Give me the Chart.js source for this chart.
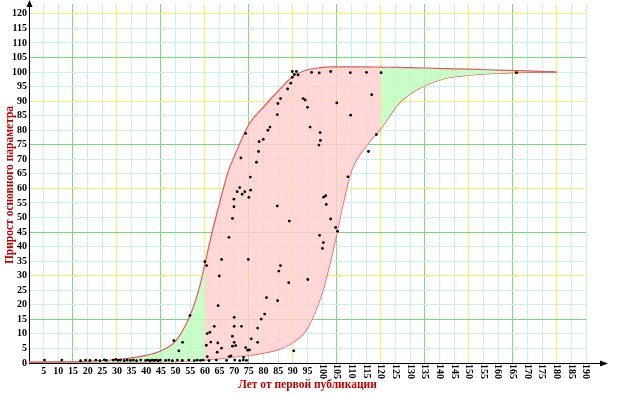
<!DOCTYPE html>
<html>
<head>
<meta charset="utf-8">
<script src="https://cdn.jsdelivr.net/npm/chart.js@4"></script>
<style>
  body { margin: 0; background: #fff; }
</style>
</head>
<body>
<canvas id="growthChart" width="627" height="393"></canvas>
<script>
// Tick values of both axes
const xTickValues = [0, 5, 10, 15, 20, 25, 30, 35, 40, 45, 50, 55, 60, 65, 70, 75, 80, 85, 90, 95, 100, 105, 110, 115, 120, 125, 130, 135, 140, 145, 150, 155, 160, 165, 170, 175, 180, 185, 190];
const yTickValues = [0, 5, 10, 15, 20, 25, 30, 35, 40, 45, 50, 55, 60, 65, 70, 75, 80, 85, 90, 95, 100, 105, 110, 115, 120];

// Curves (envelope of the spread), sampled at common x values
const curveX = [0, 10, 20, 30, 40, 45, 50, 55, 58, 60, 62, 65, 68, 70, 75, 80, 85, 90, 95, 100, 102.5, 105, 107, 110, 115, 120, 126, 130, 135, 142, 150, 160, 170, 180];
const upperY = [0.3, 0.4, 0.6, 1.2, 2.6, 4.2, 7.5, 16.5, 25.5, 34, 43, 55, 66, 71, 82, 88, 93.5, 98.5, 100.8, 101.6, 101.8, 101.8, 101.8, 101.8, 101.8, 101.7, 101.6, 101.5, 101.4, 101.2, 101, 100.7, 100.4, 100];
const lowerY = [0.2, 0.2, 0.2, 0.3, 0.3, 0.4, 0.5, 0.7, 0.9, 1.0, 1.2, 1.5, 1.8, 2.1, 2.6, 3.4, 4.6, 7, 12, 24, 33.5, 44.5, 54, 66, 74.5, 80.5, 89, 92.5, 95.3, 97.8, 98.9, 99.6, 99.9, 100];

// Observed points
const pointX = [
  5.3, 11.2, 17.6, 19.3, 20.8, 22.8, 24.2, 25.7, 26.4, 28.7, 29.6, 30.4, 31.2, 32.5, 33.5, 34.6, 35.6, 36.7, 38.1, 39.8,
  40.6, 41.3, 42, 42.7, 43.4, 44.1, 44.8, 46.6, 47.7, 48.9, 50.6, 52.3, 54.5, 56.4, 57.4, 58.5, 59.4, 61.4, 63.9, 67.4,
  70.2, 71.9, 73.1, 74.2,
  49.4, 51.1, 52.4, 54.9, 60, 60.6, 65.7, 74.8, 64.9, 64.5, 60.8, 61.7, 63.2, 60.5, 62, 64.4, 64.2, 65.7, 60.8, 68.3,
  68.9, 73.2, 69.4, 70.5, 70, 69.4, 70, 72.5, 70, 73.9, 74.6, 75.2, 75.8, 78, 78, 79.2, 80.4, 81, 84.8, 88.6,
  85.2, 85.8, 90.3, 95.1,
  68.2, 69.4, 69.9, 69.9, 71, 71.9, 72.7, 73.6, 75.6, 75, 75.5, 77.6, 72.3, 78.3, 73.9, 78.5, 79.9, 81.5, 82.2, 84.7,
  84.9, 85.8, 88.2, 89.3, 89.8, 89.8, 90.5, 91.2, 91.8, 84.7, 88.8,
  96.4, 99, 102.9, 109.6, 115.1, 120.1, 166.3,
  116.9, 93.5, 94.2, 105, 95, 109.7, 95.9, 99.3, 99.4, 98.9, 118.5, 115.8, 108.8, 101.2, 100.5, 101.4, 102.9, 104.6,
  105.2, 99.1, 100.4, 100.1
];
const pointY = [
  1, 1, 0.8, 1, 0.9, 1, 0.8, 1.1, 0.9, 1, 1.2, 0.9, 1, 0.8, 1, 0.9, 1, 0.8, 1, 0.9,
  1, 0.8, 1, 0.9, 1, 0.8, 1, 0.9, 1, 0.8, 1, 0.9, 1, 0.8, 1, 0.9, 1, 0.8, 1, 0.9,
  1, 0.8, 1, 0.9,
  7.7, 4.2, 7.1, 16.3, 34.8, 33.5, 35.6, 35.6, 29.9, 19.7, 10.1, 10.6, 12.6, 6.1, 7.2, 6.9, 3.7, 5.1, 2.2, 2.2,
  2.4, 1.9, 5.8, 6, 7.1, 9.2, 12.6, 12.6, 15.7, 5.3, 4.4, 4.5, 8.3, 7.1, 12, 15.1, 16.8, 22.5, 21.4, 27.6,
  31.6, 33.5, 4.2, 28.7,
  43.2, 49.7, 53.7, 56.3, 58.9, 60.3, 58, 58.9, 59.4, 56.9, 63.9, 69, 70.5, 72.7, 78.9, 76.1, 76.9, 80, 81.1, 85.4,
  89.2, 90.9, 94.2, 96.2, 98.2, 100.2, 99.2, 100.2, 99, 54, 48.8,
  99.9, 99.7, 100.2, 99.8, 99.9, 99.8, 99.8,
  92.2, 90.9, 90.4, 89.4, 87.9, 85.2, 81.1, 79.2, 76.5, 74.9, 78.5, 72.7, 64, 57.5, 57, 54.5, 49.5, 46.6,
  45.3, 43.9, 41.4, 39.4
];

const xTitle = 'Лет от первой публикации';
const yTitle = 'Прирост основного параметра';

const pinkFill = 'rgba(255, 205, 205, 0.8)';
const greenFill = 'rgba(195, 252, 195, 0.9)';
const curveColor = '#e05a5a';

function gridColor(ctx) {
  const v = ctx.tick.value;
  if (v === 0) return 'rgba(0,0,0,0)';
  if (v % 30 === 0) return '#f2f264';
  if (v % 30 === 15) return '#74de74';
  return '#c4f2f2';
}

// axis lines, arrows, tick labels and titles
const axesPlugin = {
  id: 'axesPlugin',
  beforeDatasetsDraw(chart) {
    const c = chart.ctx;
    const xs = chart.scales.x, ys = chart.scales.y;
    const x0 = xs.getPixelForValue(0), y0 = ys.getPixelForValue(0);
    c.save();
    c.strokeStyle = '#000';
    c.fillStyle = '#000';
    c.lineWidth = 1;
    c.beginPath();
    c.moveTo(x0, y0 + 0.5);
    c.lineTo(602, y0 + 0.5);
    c.moveTo(x0 + 0.5, y0);
    c.lineTo(x0 + 0.5, 4);
    c.stroke();
    c.beginPath();
    c.moveTo(608, y0 + 0.5); c.lineTo(600, y0 - 2.5); c.lineTo(600, y0 + 3.5); c.closePath();
    c.moveTo(x0 + 0.5, 0); c.lineTo(x0 - 2.5, 7); c.lineTo(x0 + 3.5, 7); c.closePath();
    c.fill();
    c.restore();
  },
  afterDraw(chart) {
    const c = chart.ctx;
    const xs = chart.scales.x, ys = chart.scales.y;
    const y0 = ys.getPixelForValue(0);
    c.save();
    c.fillStyle = '#000';
    c.font = 'bold 10px "Liberation Serif", serif';
    // y ticks
    c.textAlign = 'right';
    c.textBaseline = 'middle';
    ys.ticks.forEach(t => {
      c.fillText(String(t.value), 27, ys.getPixelForValue(t.value));
    });
    // x ticks: horizontal below 100, rotated from 100 on
    xs.ticks.forEach(t => {
      if (t.value === 0) return;
      const px = xs.getPixelForValue(t.value);
      if (t.value < 100) {
        c.textAlign = 'center';
        c.textBaseline = 'top';
        c.fillText(String(t.value), px, y0 + 3);
      } else {
        c.save();
        c.translate(px, y0 + 1);
        c.rotate(Math.PI / 2);
        c.textAlign = 'left';
        c.textBaseline = 'middle';
        c.fillText(String(t.value), 0, 0);
        c.restore();
      }
    });
    // titles
    c.fillStyle = '#c00000';
    c.font = 'bold 11.5px "Liberation Serif", serif';
    c.textAlign = 'center';
    c.textBaseline = 'middle';
    c.fillText(xTitle, (xs.left + xs.right) / 2, 385);
    c.save();
    c.translate(10, 185);
    c.rotate(-Math.PI / 2);
    c.fillText(yTitle, 0, 0);
    c.restore();
    c.restore();
  }
};

const ctx = document.getElementById('growthChart').getContext('2d');
const growthChart = new Chart(ctx, {
  type: 'line',
  data: {
    datasets: [{
      type: 'scatter',
      label: 'points',
      data: pointX.map((x, i) => ({ x: x, y: pointY[i] })),
      backgroundColor: '#000',
      borderColor: '#000',
      pointRadius: 1.4,
      pointBorderWidth: 0,
      order: 0
    }, {
      label: 'upper',
      data: curveX.map((x, i) => ({ x: x, y: upperY[i] })),
      borderColor: curveColor,
      borderWidth: 1.2,
      pointRadius: 0,
      cubicInterpolationMode: 'monotone',
      fill: '+1',
      backgroundColor: greenFill,
      segment: {
        backgroundColor: c => (c.p0.parsed.x >= 60 && c.p1.parsed.x <= 120) ? pinkFill : greenFill
      },
      order: 1
    }, {
      label: 'lower',
      data: curveX.map((x, i) => ({ x: x, y: lowerY[i] })),
      borderColor: curveColor,
      borderWidth: 1.2,
      pointRadius: 0,
      cubicInterpolationMode: 'monotone',
      fill: false,
      order: 2
    }]
  },
  options: {
    responsive: false,
    animation: false,
    devicePixelRatio: 1,
    layout: { padding: { left: 29, right: 41, top: 0, bottom: 30 } },
    plugins: {
      legend: { display: false },
      tooltip: { enabled: false }
    },
    scales: {
      x: {
        type: 'linear',
        min: 0,
        max: 190,
        ticks: { display: false },
        grid: { color: gridColor, drawTicks: false, lineWidth: 1 },
        border: { display: false },
        afterBuildTicks: s => { s.ticks = xTickValues.map(v => ({ value: v })); },
        afterFit: s => { s.height = 0; }
      },
      y: {
        type: 'linear',
        min: 0,
        max: 123.4,
        ticks: { display: false },
        grid: { color: gridColor, drawTicks: false, lineWidth: 1 },
        border: { display: false },
        afterBuildTicks: s => { s.ticks = yTickValues.map(v => ({ value: v })); },
        afterFit: s => { s.width = 0; }
      }
    }
  },
  plugins: [axesPlugin]
});
</script>
</body>
</html>
